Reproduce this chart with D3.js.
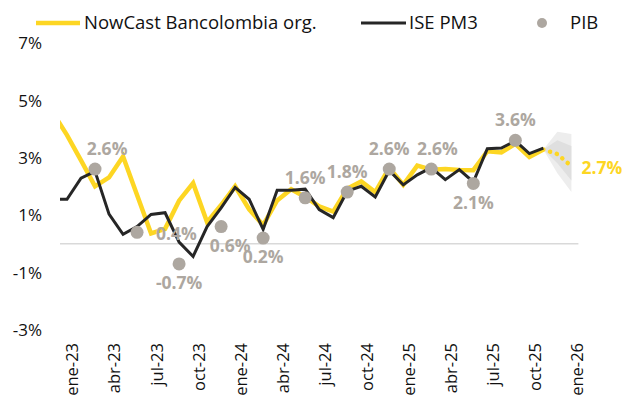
<!DOCTYPE html>
<html>
<head>
<meta charset="utf-8">
<script src="https://cdn.jsdelivr.net/npm/d3@7"></script>
<style>
  body { margin: 0; background: #fff; }
  svg text { font-family: "Open Sans", "Noto Sans", sans-serif; }
</style>
</head>
<body>
<div id="chart"></div>
<script>
// month index: 0 = ene-23, series start at -1 (dic-22)
const startMonth = -1;

const nowcast = [4.55, 3.78, 2.9, 2.0, 2.31, 3.04, 1.7, 0.36, 0.52, 1.5, 2.11, 0.75,
    1.35, 2.0, 1.2, 0.65, 1.51, 1.9, 1.63, 1.3, 1.12, 1.92, 2.17, 1.8,
    2.65, 2.05, 2.72, 2.58, 2.6, 2.57, 2.56, 3.22, 3.18, 3.48, 3.02, 3.28];

const ise = [1.55, 1.55, 2.28, 2.52, 1.03, 0.33, 0.6, 1.02, 1.08, 0.06, -0.44, 0.6,
    1.25, 1.96, 1.55, 0.5, 1.86, 1.86, 1.9, 1.19, 0.91, 1.83, 2.0, 1.63,
    2.55, 2.05, 2.4, 2.65, 2.23, 2.58, 2.15, 3.31, 3.33, 3.58, 3.14, 3.33];

// forecast nov-25 .. ene-26
const forecastMonths = [34, 35, 36];
const forecast = [3.28, 3.12, 2.7];
const fanOuterHi = [3.28, 3.9, 3.82];
const fanOuterLo = [3.28, 2.45, 1.8];
const fanInnerHi = [3.28, 3.6, 3.4];
const fanInnerLo = [3.28, 2.8, 2.2];

const pibMonths = [2, 5, 8, 11, 14, 17, 20, 23, 26, 29, 32];
const pib = [2.6, 0.4, -0.7, 0.6, 0.2, 1.6, 1.8, 2.6, 2.6, 2.1, 3.6];
const pibLabelPlace = ["above", "right", "below", "below", "below", "above", "above", "above", "above", "below", "above"];

const xTickMonths = [0, 3, 6, 9, 12, 15, 18, 21, 24, 27, 30, 33, 36];
const xTickLabels = ["ene-23", "abr-23", "jul-23", "oct-23", "ene-24", "abr-24", "jul-24",
    "oct-24", "ene-25", "abr-25", "jul-25", "oct-25", "ene-26"];
const yTicks = [-3, -1, 1, 3, 5, 7];

const legendItems = ["NowCast Bancolombia org.", "ISE PM3", "PIB"];

const YELLOW = "#FDD623";
const DARK = "#262626";
const GREY = "#ADA7A0";

const width = 622, height = 401;
const plot = {left: 60, right: 578.4, top: 42.6, bottom: 330};

const svg = d3.select("#chart").append("svg")
    .attr("width", width)
    .attr("height", height);

const x = d3.scaleLinear().domain([-0.5, 36.5]).range([plot.left, plot.right]);
const y = d3.scaleLinear().domain([-3, 7]).range([plot.bottom, plot.top]);

svg.append("clipPath").attr("id", "plotClip")
    .append("rect")
    .attr("x", plot.left).attr("y", 0)
    .attr("width", plot.right - plot.left).attr("height", height);

// y axis labels
const yAxis = d3.axisLeft(y).tickValues(yTicks).tickSize(0).tickFormat(d => d + "%");
const yG = svg.append("g").attr("transform", "translate(42,0)").call(yAxis);
yG.select(".domain").remove();
yG.selectAll("text")
    .attr("x", 0).attr("dy", "0.35em")
    .style("font-size", "17px").attr("fill", "#111");

// x axis labels (rotated)
const xAxis = d3.axisBottom(x).tickValues(xTickMonths).tickSize(0)
    .tickFormat((d, i) => xTickLabels[i]);
const xG = svg.append("g").attr("transform", "translate(5,335)").call(xAxis);
xG.select(".domain").remove();
xG.selectAll("text")
    .attr("transform", "rotate(-90)")
    .attr("text-anchor", "end")
    .attr("x", -8).attr("y", 0).attr("dy", "0.36em")
    .style("font-size", "16.5px").attr("fill", "#111");

// zero line
svg.append("line")
    .attr("x1", plot.left).attr("x2", plot.right)
    .attr("y1", y(0)).attr("y2", y(0))
    .attr("stroke", "#d9d9d9").attr("stroke-width", 1.5);

const chart = svg.append("g").attr("clip-path", "url(#plotClip)");

// forecast fan
const fanArea = d3.area()
    .x((d, i) => x(forecastMonths[i]))
    .y0(d => y(d[0])).y1(d => y(d[1]));

chart.append("path")
    .datum(fanOuterHi.map((v, i) => [fanOuterLo[i], v]))
    .attr("d", fanArea).attr("fill", "#ededed");
chart.append("path")
    .datum(fanInnerHi.map((v, i) => [fanInnerLo[i], v]))
    .attr("d", fanArea).attr("fill", "#dfdfdf");

const line = d3.line()
    .x(d => x(d.m))
    .y(d => y(d.v));

const toPts = arr => arr.map((v, i) => ({m: startMonth + i, v: v}));

chart.append("path")
    .datum(toPts(nowcast))
    .attr("d", line)
    .attr("fill", "none").attr("stroke", YELLOW)
    .attr("stroke-width", 4.5).attr("stroke-linejoin", "miter");

chart.append("path")
    .datum(forecast.map((v, i) => ({m: forecastMonths[i], v: v})))
    .attr("d", line)
    .attr("fill", "none").attr("stroke", YELLOW)
    .attr("stroke-width", 4.5).attr("stroke-linecap", "round")
    .attr("stroke-dasharray", "0.1 7").attr("stroke-dashoffset", -7);

chart.append("path")
    .datum(toPts(ise))
    .attr("d", line)
    .attr("fill", "none").attr("stroke", DARK)
    .attr("stroke-width", 3).attr("stroke-linejoin", "miter");

// PIB dots
const pibData = pib.map((v, i) => ({m: pibMonths[i], v: v, place: pibLabelPlace[i]}));

svg.selectAll(".pib-dot")
    .data(pibData)
    .enter()
    .append("circle")
    .attr("class", "pib-dot")
    .attr("cx", d => x(d.m)).attr("cy", d => y(d.v))
    .attr("r", 6.5).attr("fill", GREY);

// nudges for a few labels so they clear the lines
const nudgeX = {0: 12, 3: 9, 8: 6};

svg.selectAll(".pib-label")
    .data(pibData)
    .enter()
    .append("text")
    .attr("class", "pib-label")
    .attr("x", (d, i) => d.place == "right" ? x(d.m) + 19 : x(d.m) + (nudgeX[i] || 0))
    .attr("y", d => {
        if (d.place == "above") return y(d.v) - 20;
        if (d.place == "below") return y(d.v) + 19;
        return y(d.v) + 2;
    })
    .attr("dy", "0.35em")
    .attr("text-anchor", d => d.place == "right" ? "start" : "middle")
    .style("font-size", "17.5px").style("font-weight", "bold")
    .attr("fill", GREY)
    .text(d => d.v.toFixed(1) + "%");

// forecast end label
svg.append("text")
    .attr("x", x(36) + 10)
    .attr("y", y(forecast[forecast.length - 1]) + 2)
    .attr("dy", "0.35em")
    .style("font-size", "17.5px").style("font-weight", "bold")
    .attr("fill", YELLOW)
    .text(forecast[forecast.length - 1].toFixed(1) + "%");

// legend
const legend = svg.append("g").attr("class", "legend");
const legendX = [36, 361, 536];

legend.append("line")
    .attr("x1", legendX[0]).attr("x2", legendX[0] + 44)
    .attr("y1", 23).attr("y2", 23)
    .attr("stroke", YELLOW).attr("stroke-width", 4.5);
legend.append("line")
    .attr("x1", legendX[1]).attr("x2", legendX[1] + 45)
    .attr("y1", 23).attr("y2", 23)
    .attr("stroke", DARK).attr("stroke-width", 3);
legend.append("circle")
    .attr("cx", legendX[2] + 6).attr("cy", 23).attr("r", 5)
    .attr("fill", GREY);

legend.selectAll(".legend-text")
    .data(legendItems)
    .enter()
    .append("text")
    .attr("class", "legend-text")
    .attr("x", (d, i) => [84, 409, 570][i])
    .attr("y", 23).attr("dy", "0.35em")
    .style("font-size", "18.5px").attr("fill", "#111")
    .text(d => d);
</script>
</body>
</html>
